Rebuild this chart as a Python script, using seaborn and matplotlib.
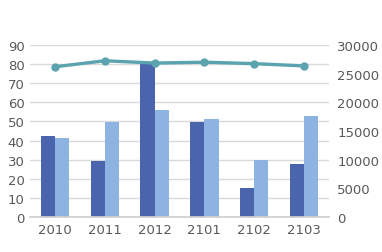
import matplotlib
matplotlib.use("Agg")
import matplotlib.pyplot as plt
import seaborn as sns
import pandas as pd

categories = ["2010", "2011", "2012", "2101", "2102", "2103"]
series_a = [42.4, 29.5, 80.5, 49.7, 15.2, 27.8]
series_b = [41.5, 49.7, 56.0, 51.3, 29.8, 52.8]
line_vals = [26200, 27250, 26850, 27000, 26750, 26350]
left_ticks = [0, 10, 20, 30, 40, 50, 60, 70, 80, 90]
right_ticks = [0, 5000, 10000, 15000, 20000, 25000, 30000]

sns.set_theme(style="white")
plt.rcParams['font.family'] = ['DejaVu Sans']

df = pd.DataFrame({
    "cat": categories * 2,
    "val": series_a + series_b,
    "s": ["A"] * 6 + ["B"] * 6,
})

fig = plt.figure(figsize=(3.82, 2.53), dpi=100)
ax = fig.add_axes([30/382, 1-218/253, 299/382, 172/253])
sns.barplot(data=df, x="cat", y="val", hue="s", palette=["#4a64ad", "#8db3e2"],
            width=0.57, ax=ax, legend=False, saturation=1, linewidth=0,
            edgecolor="none")
ax.set_ylim(0, 90)
ax.set_yticks(left_ticks)
ax.set_xlim(-0.5, 5.5)
ax.set_xlabel("")
ax.set_ylabel("")
ax.grid(axis="y", color="#d9d9d9", linewidth=1)
ax.set_axisbelow(True)
for s in ["top", "right", "left"]:
    ax.spines[s].set_visible(False)
ax.spines["bottom"].set_color("#d0d0d0")
ax.tick_params(axis="both", length=0, labelsize=9.5, labelcolor="#595959", pad=4)

ax2 = ax.twinx()
ldf = pd.DataFrame({"x": list(range(6)), "y": line_vals})
sns.lineplot(data=ldf, x="x", y="y", ax=ax2, color="#5ba3ae", linewidth=2.4,
             marker="o", markersize=6, markeredgewidth=0)
ax2.set_ylim(0, 30000)
ax2.set_yticks(right_ticks)
ax2.set_xlim(-0.5, 5.5)
ax2.set_ylabel("")
ax2.set_xlabel("")
for s in ["top", "right", "left", "bottom"]:
    ax2.spines[s].set_visible(False)
ax2.tick_params(axis="y", length=0, labelsize=9.5, labelcolor="#595959", pad=6)
ax2.grid(False)

fig.savefig("out.png", dpi=100)
